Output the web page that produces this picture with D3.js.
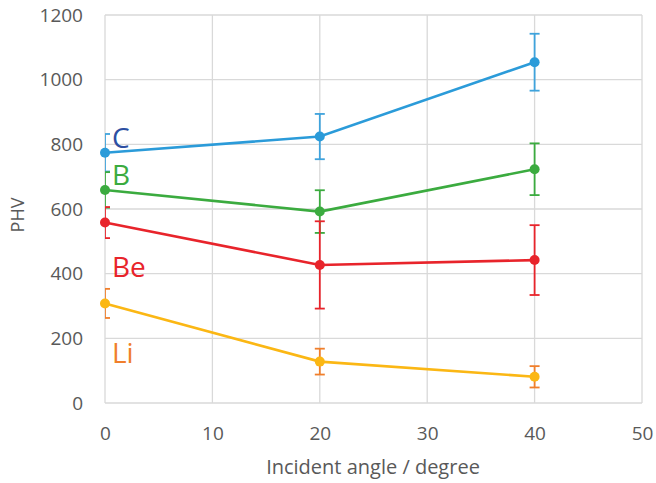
<!DOCTYPE html>
<html>
<head>
<meta charset="utf-8">
<script src="https://cdn.jsdelivr.net/npm/d3@7"></script>
<style>
  body { margin: 0; background: #fff; }
  svg { font-family: "Open Sans", sans-serif; }
</style>
</head>
<body>
<svg id="chart" width="656" height="483"></svg>
<script>
// incident angles (degree)
const angles = [0, 20, 40];

// PHV values and error half-widths per element
const cValues = [774, 824, 1054];
const cErrors = [58, 70, 88];
const bValues = [659, 592, 723];
const bErrors = [55, 66, 80];
const beValues = [558, 427, 442];
const beErrors = [48, 135, 108];
const liValues = [308, 128, 81];
const liErrors = [45, 40, 33];

const xTicks = [0, 10, 20, 30, 40, 50];
const yTicks = [0, 200, 400, 600, 800, 1000, 1200];

const series = [
    {name: 'C', values: cValues, errors: cErrors, line: '#2b9bd9', err: '#3fa3dc', label: '#2d4fa2', ly: 788},
    {name: 'B', values: bValues, errors: bErrors, line: '#3bab3f', err: '#3bab3f', label: '#3bab3f', ly: 675},
    {name: 'Be', values: beValues, errors: beErrors, line: '#e8242b', err: '#e8242b', label: '#e8242b', ly: 390},
    {name: 'Li', values: liValues, errors: liErrors, line: '#fbb714', err: '#f07f2c', label: '#f07f2c', ly: 123}
];

const MARGIN = {top: 15, right: 14, bottom: 80, left: 105};
const WIDTH = 656, HEIGHT = 483;

const svg = d3.select('#chart');

const xScale = d3.scaleLinear()
    .domain([0, 50])
    .range([MARGIN.left, WIDTH - MARGIN.right]);

const yScale = d3.scaleLinear()
    .domain([0, 1200])
    .range([HEIGHT - MARGIN.bottom, MARGIN.top]);

// grid
const grid = svg.append('g');
grid.selectAll('line.h')
    .data(yTicks)
    .join('line')
    .attr('class', 'h')
    .attr('x1', xScale(0)).attr('x2', xScale(50))
    .attr('y1', d => yScale(d)).attr('y2', d => yScale(d))
    .attr('stroke', '#d9d9d9').attr('stroke-width', 1.3);
grid.selectAll('line.v')
    .data(xTicks)
    .join('line')
    .attr('class', 'v')
    .attr('y1', yScale(0)).attr('y2', yScale(1200))
    .attr('x1', d => xScale(d)).attr('x2', d => xScale(d))
    .attr('stroke', '#d9d9d9').attr('stroke-width', 1.3);

// axes (labels only)
const xAxis = d3.axisBottom(xScale).tickValues(xTicks).tickSize(0).tickPadding(24);
svg.append('g')
    .attr('transform', `translate(0, ${yScale(0)})`)
    .call(xAxis)
    .call(g => g.select('.domain').remove())
    .selectAll('text')
    .attr('font-size', 19).attr('fill', '#595959').attr('font-family', '"Open Sans", sans-serif');

const yAxis = d3.axisLeft(yScale).tickValues(yTicks).tickFormat(d3.format('d')).tickSize(0).tickPadding(22);
svg.append('g')
    .attr('transform', `translate(${xScale(0)}, 0)`)
    .call(yAxis)
    .call(g => g.select('.domain').remove())
    .selectAll('text')
    .attr('font-size', 19).attr('fill', '#595959').attr('font-family', '"Open Sans", sans-serif');

// axis titles
svg.append('text')
    .attr('x', 373).attr('y', 474)
    .attr('text-anchor', 'middle')
    .attr('font-size', 20).attr('fill', '#595959')
    .text('Incident angle / degree');

svg.append('text')
    .attr('transform', 'translate(24, 215) rotate(-90)')
    .attr('text-anchor', 'middle')
    .attr('font-size', 18).attr('fill', '#595959')
    .text('PHV');

// clip error bars to plot area
svg.append('clipPath').attr('id', 'plot-clip')
    .append('rect')
    .attr('x', xScale(0)).attr('y', 0)
    .attr('width', xScale(50) - xScale(0)).attr('height', HEIGHT);

const content = svg.append('g');

series.forEach(s => {
    const pts = angles.map((a, i) => ({x: a, y: s.values[i], e: s.errors[i]}));

    const errG = content.append('g').attr('clip-path', 'url(#plot-clip)');
    errG.selectAll('line.bar')
        .data(pts)
        .join('line')
        .attr('x1', d => xScale(d.x)).attr('x2', d => xScale(d.x))
        .attr('y1', d => yScale(d.y - d.e)).attr('y2', d => yScale(d.y + d.e))
        .attr('stroke', s.err).attr('stroke-width', 1.8);
    ['top', 'bottom'].forEach(k => {
        errG.selectAll('line.cap-' + k)
            .data(pts)
            .join('line')
            .attr('x1', d => xScale(d.x) - 5).attr('x2', d => xScale(d.x) + 5)
            .attr('y1', d => yScale(k === 'top' ? d.y + d.e : d.y - d.e))
            .attr('y2', d => yScale(k === 'top' ? d.y + d.e : d.y - d.e))
            .attr('stroke', s.err).attr('stroke-width', 1.8);
    });

    const line = d3.line().x(d => xScale(d.x)).y(d => yScale(d.y));
    content.append('path')
        .datum(pts)
        .attr('d', line)
        .attr('fill', 'none')
        .attr('stroke', s.line)
        .attr('stroke-width', 2.6);

    content.selectAll('circle.p-' + s.name)
        .data(pts)
        .join('circle')
        .attr('cx', d => xScale(d.x))
        .attr('cy', d => yScale(d.y))
        .attr('r', 5)
        .attr('fill', s.line);

    content.append('text')
        .attr('x', xScale(0) + 7)
        .attr('y', yScale(s.ly))
        .attr('font-size', 28)
        .attr('fill', s.label)
        .text(s.name);
});
</script>
</body>
</html>
